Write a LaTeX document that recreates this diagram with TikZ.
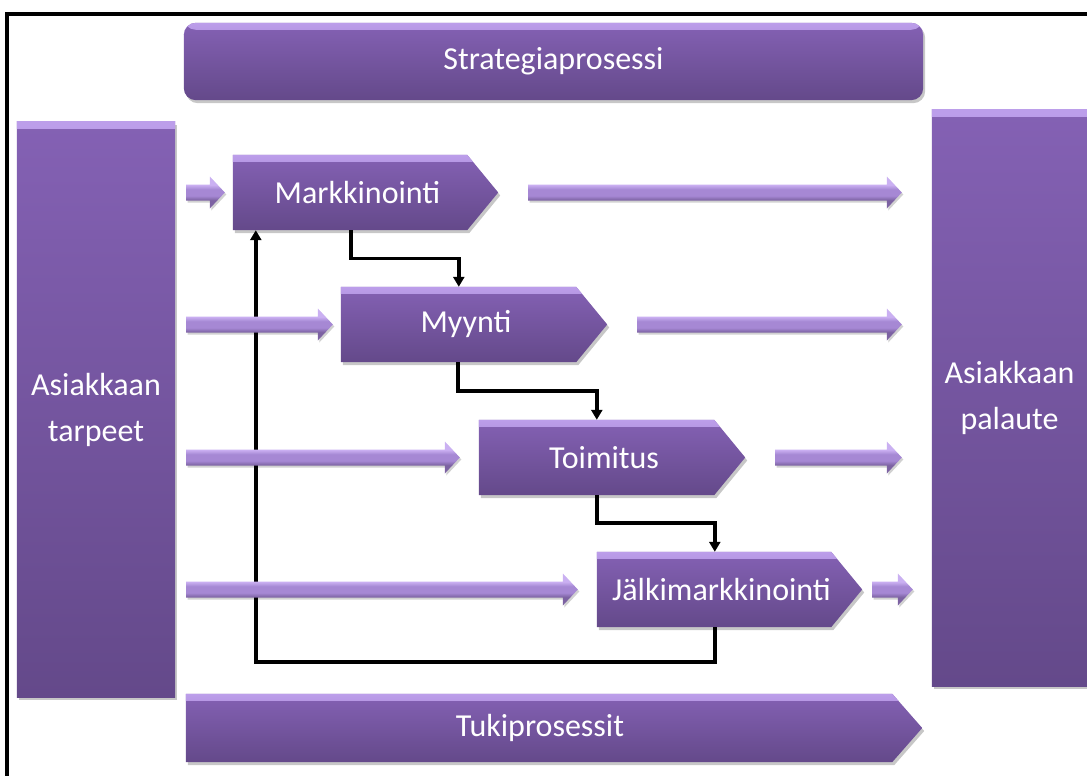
\documentclass[tikz,border=0pt]{standalone}
\usepackage{fontspec}
\setmainfont{Carlito}
\usetikzlibrary{calc,arrows.meta}
\pgfdeclarelayer{background}
\pgfsetlayers{background,main}

\definecolor{procTop}{RGB}{132,97,180}
\definecolor{procBot}{RGB}{100,73,138}
\definecolor{procLight}{RGB}{188,158,234}
\definecolor{flowLight}{RGB}{202,176,242}
\definecolor{flowMid}{RGB}{166,136,212}
\definecolor{flowDark}{RGB}{124,98,162}

% light band for the flow arrows: dark lower edge, light upper edge
\pgfdeclareverticalshading{flowband}{100bp}{color(0bp)=(flowDark); color(38bp)=(flowDark); color(45bp)=(flowMid); color(55bp)=(flowMid); color(62bp)=(flowLight); color(100bp)=(flowLight)}

% outline of a pointed process box
\newcommand\chevronpath[2]{(#1.north west) -- ([xshift=-#2]#1.north east) -- (#1.east) -- ([xshift=-#2]#1.south east) -- (#1.south west) -- cycle}
% outline of a block arrow from #1 to #2
\newcommand\flowpath[2]{($(#1)+(0,-8)$) -- ($(#2)+(-15,-8)$) -- ($(#2)+(-15,-16)$) -- (#2) -- ($(#2)+(-15,16)$) -- ($(#2)+(-15,8)$) -- ($(#1)+(0,8)$) -- cycle}
\newcommand\flowarrow[2]{%
  \fill[flowshadow] \flowpath{#1}{#2};
  \shade[shading=flowband] \flowpath{#1}{#2};}

\tikzset{
  txt/.style={text=white, font=\fontsize{32}{46}\selectfont, inner sep=0pt},
  tipshift/.style={execute at begin node={\hspace*{-#1}}},
  boxfill/.style={top color=procTop, bottom color=procBot,
    path picture={\shade[top color=procLight, bottom color=procTop]
      (path picture bounding box.north west) rectangle ([yshift=-7pt]path picture bounding box.north east);}},
  boxshadow/.style={fill=black, opacity=0.22, transform canvas={xshift=2pt, yshift=-3pt}},
  flowshadow/.style={fill=black, opacity=0.18, transform canvas={xshift=1.5pt, yshift=-2pt}},
  conn/.style={draw=black, line width=3.5pt, -{Triangle[width=11pt,length=10pt]}},
  frame/.style={draw=black, line width=3.5pt},
}

\begin{document}
\begin{tikzpicture}[x=1pt,y=-1pt]
\useasboundingbox (0,0) rectangle (1087,776);

% frame
\draw[frame] (7,776) -- (7,14) -- (1087,14);

% process boxes
\node[txt, minimum width=739pt, minimum height=77pt] (strat) at (553.5,61.5) {Strategiaprosessi};
\node[txt, align=center, minimum width=158pt, minimum height=575pt] (need) at (96,409.5) {Asiakkaan\\tarpeet};
\node[txt, align=center, minimum width=155pt, minimum height=576pt] (fb) at (1009.5,398) {Asiakkaan\\palaute};
\node[txt, tipshift=16pt, minimum width=265pt, minimum height=75pt] (mark) at (365.5,192.5) {Markkinointi};
\node[txt, tipshift=16pt, minimum width=266pt, minimum height=75pt] (sale) at (474,324.5) {Myynti};
\node[txt, tipshift=16pt, minimum width=266pt, minimum height=75pt] (deliv) at (612,457.5) {Toimitus};
\node[txt, tipshift=16pt, minimum width=265pt, minimum height=75pt] (after) at (729.5,589.5) {Jälkimarkkinointi};
\node[txt, tipshift=28pt, minimum width=736pt, minimum height=68pt] (supp) at (554,728) {Tukiprosessit};

\begin{pgfonlayer}{background}
  \fill[boxshadow, rounded corners=12pt] (strat.north west) rectangle (strat.south east);
  \fill[boxshadow] (need.north west) rectangle (need.south east);
  \fill[boxshadow] (fb.north west) rectangle (fb.south east);
  \fill[boxshadow] \chevronpath{mark}{31pt};
  \fill[boxshadow] \chevronpath{sale}{31pt};
  \fill[boxshadow] \chevronpath{deliv}{31pt};
  \fill[boxshadow] \chevronpath{after}{31pt};
  \fill[boxshadow] \chevronpath{supp}{30pt};
  \shade[boxfill, rounded corners=12pt] (strat.north west) rectangle (strat.south east);
  \shade[boxfill] (need.north west) rectangle (need.south east);
  \shade[boxfill] (fb.north west) rectangle (fb.south east);
  \shade[boxfill] \chevronpath{mark}{31pt};
  \shade[boxfill] \chevronpath{sale}{31pt};
  \shade[boxfill] \chevronpath{deliv}{31pt};
  \shade[boxfill] \chevronpath{after}{31pt};
  \shade[boxfill] \chevronpath{supp}{30pt};
\end{pgfonlayer}

% hand-over connectors between the process steps
\draw[conn] ([xshift=118pt]mark.south west) -- ++(0,28.5) -| ([xshift=118pt]sale.north west);
\draw[conn] ([xshift=117pt]sale.south west) -- ++(0,29) -| ([xshift=118pt]deliv.north west);
\draw[conn] ([xshift=118pt]deliv.south west) -- ++(0,28) -| ([xshift=118pt]after.north west);
% feedback loop back to marketing
\draw[conn] ([xshift=118pt]after.south west) -- ++(0,35) -| ([xshift=23pt]mark.south west);

% flow arrows
\coordinate (in1s) at ($(need.east |- mark.west)+(11,0)$);
\coordinate (in1e) at ($(mark.west)+(-8,0)$);
\coordinate (in2s) at ($(need.east |- sale.west)+(11,0)$);
\coordinate (in2e) at ($(sale.west)+(-8,0)$);
\coordinate (in3s) at ($(need.east |- deliv.west)+(11,0)$);
\coordinate (in3e) at ($(deliv.west)+(-19,0)$);
\coordinate (in4s) at ($(need.east |- after.west)+(11,0)$);
\coordinate (in4e) at ($(after.west)+(-19,0)$);
\coordinate (out1s) at ($(mark.east)+(30,0)$);
\coordinate (out1e) at ($(fb.west |- mark.east)+(-30,0)$);
\coordinate (out2s) at ($(sale.east)+(30,0)$);
\coordinate (out2e) at ($(fb.west |- sale.east)+(-30,0)$);
\coordinate (out3s) at ($(deliv.east)+(30,0)$);
\coordinate (out3e) at ($(fb.west |- deliv.east)+(-30,0)$);
\coordinate (out4s) at ($(after.east)+(10,0)$);
\coordinate (out4e) at ($(fb.west |- after.east)+(-19,0)$);
\flowarrow{in1s}{in1e}
\flowarrow{in2s}{in2e}
\flowarrow{in3s}{in3e}
\flowarrow{in4s}{in4e}
\flowarrow{out1s}{out1e}
\flowarrow{out2s}{out2e}
\flowarrow{out3s}{out3e}
\flowarrow{out4s}{out4e}
\end{tikzpicture}
\end{document}
